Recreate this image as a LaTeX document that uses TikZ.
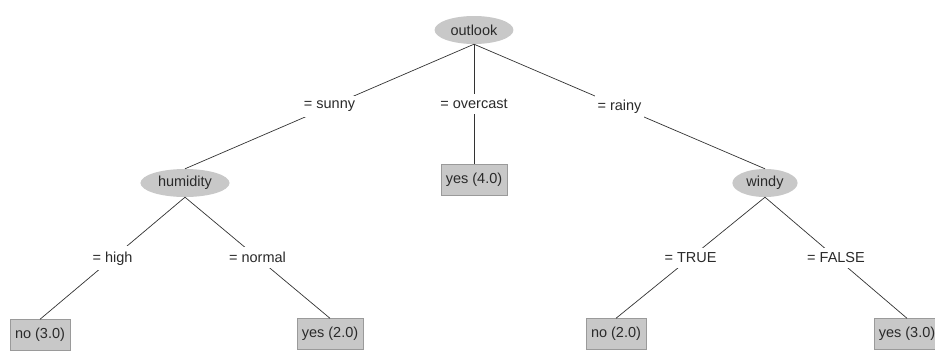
\documentclass[tikz,border=0pt]{standalone}
\usepackage{fontspec}
\setmainfont{Liberation Sans}
\usetikzlibrary{shapes.geometric}
\definecolor{nodeGray}{HTML}{C8C8C8}
\definecolor{boxLine}{HTML}{9A9A9A}
\definecolor{edgeGray}{HTML}{333333}
\definecolor{ink}{HTML}{2A2A2A}
\tikzset{
  split/.style={ellipse, fill=nodeGray, minimum height=28pt, inner xsep=4.5pt,
                inner ysep=0pt, text=ink, font=\fontsize{14.5}{17}\selectfont},
  leaf/.style={rectangle, draw=boxLine, fill=nodeGray, minimum height=31pt,
               inner xsep=5pt, text=ink, font=\fontsize{14.5}{17}\selectfont},
  branch/.style={draw=edgeGray, line width=0.7pt},
  cond/.style={fill=white, inner xsep=3pt, inner ysep=5pt, text=ink,
               font=\fontsize{14.5}{17}\selectfont}
}
\begin{document}
\begin{tikzpicture}[x=1pt,y=-1pt]
\useasboundingbox[fill=white] (0,0) rectangle (935,351);
% inner nodes
\node[split] (outlook) at (474,30) {outlook};
\node[split] (humidity) at (185,183) {humidity};
\node[split] (windy) at (765,183) {windy};
% leaves
\node[leaf] (yesOvercast) at (474,180) {yes (4.0)};
\node[leaf] (noHigh) at (40,335) {no (3.0)};
\node[leaf] (yesNormal) at (330,334) {yes (2.0)};
\node[leaf] (noTrue) at (616,334) {no (2.0)};
\node[leaf] (yesFalse) at (907,334) {yes (3.0)};
% branches
\draw[branch] (outlook.south) -- node[cond] {= sunny} (humidity.north);
\draw[branch] (outlook.south) -- node[cond] {= overcast} (yesOvercast.north);
\draw[branch] (outlook.south) -- node[cond] {= rainy} (windy.north);
\draw[branch] (humidity.south) -- node[cond] {= high} (noHigh.north);
\draw[branch] (humidity.south) -- node[cond] {= normal} (yesNormal.north);
\draw[branch] (windy.south) -- node[cond] {= TRUE} (noTrue.north);
\draw[branch] (windy.south) -- node[cond] {= FALSE} (yesFalse.north);
\end{tikzpicture}
\end{document}
